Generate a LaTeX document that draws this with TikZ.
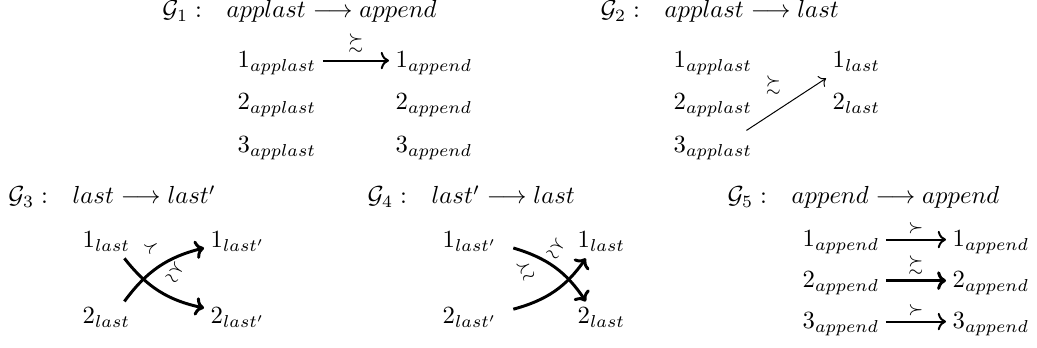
\documentclass[tikz,border=0pt]{standalone}
\usepackage{amsmath,amssymb}
\usetikzlibrary{arrows.meta}
\newcommand{\hsp}{\hspace{7.2pt}}
\begin{document}
\begin{tikzpicture}[x=0.405pt,y=0.405pt,
  lbl/.style={anchor=base west,inner sep=2.5pt},
  hdr/.style={anchor=base west,inner sep=0pt},
  rel/.style={font=\scriptsize,inner sep=1pt},
  arr/.style={-{To},line width=0.8pt},
  thinarr/.style={-{To},line width=0.4pt},
  boldarr/.style={-{To[scale=0.85]},line width=1.2pt}]
\useasboundingbox (0,0) rectangle (1037,348);
% G1
\node[hdr] (h1) at (162,330) {$\mathcal{G}_1:\hsp applast \longrightarrow append$};
\node[lbl] (g1a1) at (231,280) {$1_{applast}$};
\node[lbl] (g1a2) at (231,238) {$2_{applast}$};
\node[lbl] (g1a3) at (231,195) {$3_{applast}$};
\node[lbl] (g1b1) at (389,280) {$1_{append}$};
\node[lbl] (g1b2) at (389,238) {$2_{append}$};
\node[lbl] (g1b3) at (389,195) {$3_{append}$};
\draw[arr] ([yshift=3pt]g1a1.base east) -- node[rel,above=2pt] {$\succsim$} ([yshift=3pt]g1b1.base west);
% G2
\node[hdr] (h2) at (600,330) {$\mathcal{G}_2:\hsp applast \longrightarrow last$};
\node[lbl] (g2a1) at (667,280) {$1_{applast}$};
\node[lbl] (g2a2) at (667,238) {$2_{applast}$};
\node[lbl] (g2a3) at (667,195) {$3_{applast}$};
\node[lbl] (g2b1) at (826,280) {$1_{last}$};
\node[lbl] (g2b2) at (826,238) {$2_{last}$};
\draw[thinarr] ([xshift=-5pt]g2a3.north east) -- node[rel,pos=0.4,anchor=south,yshift=5pt,xshift=-2pt] {$\succsim$} (g2b1.south west);
% G3
\node[hdr] (h3) at (8,144) {$\mathcal{G}_3:\hsp last \longrightarrow last'$};
\node[lbl] (g3a1) at (76,100) {$1_{last}$};
\node[lbl] (g3a2) at (76,24) {$2_{last}$};
\node[lbl] (g3b1) at (204,100) {$1_{last'}$};
\node[lbl] (g3b2) at (204,24) {$2_{last'}$};
\draw[boldarr] ([xshift=-5pt]g3a2.north east) to[bend left=20] node[rel,pos=0.55,above=4.5pt,sloped] {$\succ$} (g3b1.base west);
\draw[boldarr] ([xshift=-5pt]g3a1.south east) to[bend right=20] node[rel,pos=0.55,above=4.5pt,sloped] {$\succsim$} ([yshift=6.5pt]g3b2.base west);
% G4
\node[hdr] (h4) at (367,144) {$\mathcal{G}_4:\hsp last' \longrightarrow last$};
\node[lbl] (g4a1) at (436,100) {$1_{last'}$};
\node[lbl] (g4a2) at (436,24) {$2_{last'}$};
\node[lbl] (g4b1) at (571,100) {$1_{last}$};
\node[lbl] (g4b2) at (571,24) {$2_{last}$};
\draw[boldarr] ([xshift=4pt]g4a1.base east) to[bend left=20] node[rel,pos=0.4,above=1pt,sloped] {$\succsim$} ([xshift=6pt]g4b2.north west);
\draw[boldarr] ([shift={(4pt,6pt)}]g4a2.base east) to[bend right=20] node[rel,pos=0.3,above=8pt,sloped] {$\succsim$} ([xshift=6pt]g4b1.south west);
% G5
\node[hdr] (h5) at (727,144) {$\mathcal{G}_5:\hsp append \longrightarrow append$};
\node[lbl] (g5a1) at (796,101) {$1_{append}$};
\node[lbl] (g5a2) at (796,60) {$2_{append}$};
\node[lbl] (g5a3) at (796,19) {$3_{append}$};
\node[lbl] (g5b1) at (946,101) {$1_{append}$};
\node[lbl] (g5b2) at (946,60) {$2_{append}$};
\node[lbl] (g5b3) at (946,19) {$3_{append}$};
\draw[arr] ([yshift=3pt]g5a1.base east) -- node[rel,above=1pt] {$\succ$} ([yshift=3pt]g5b1.base west);
\draw[boldarr] ([yshift=3pt]g5a2.base east) -- node[rel,above=1pt] {$\succsim$} ([yshift=3pt]g5b2.base west);
\draw[arr] ([yshift=3pt]g5a3.base east) -- node[rel,above=1pt] {$\succ$} ([yshift=3pt]g5b3.base west);
\end{tikzpicture}
\end{document}
